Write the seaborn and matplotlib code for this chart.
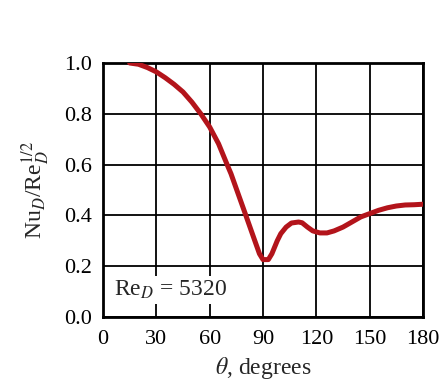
import seaborn as sns
import pandas as pd
import matplotlib.pyplot as plt

# values
theta = [15, 20, 25, 30, 35, 40, 45, 50, 55, 60, 65, 70, 72, 75, 80, 85, 88, 90, 93,
         95, 98, 100, 103, 106, 110, 112, 115, 118, 122, 126, 130, 135, 140, 145, 150,
         155, 160, 165, 170, 175, 180]
nu_re = [1.0, 0.995, 0.982, 0.965, 0.942, 0.916, 0.886, 0.846, 0.80, 0.748, 0.682,
         0.597, 0.564, 0.505, 0.407, 0.308, 0.249, 0.226, 0.226, 0.249, 0.30, 0.328,
         0.354, 0.37, 0.374, 0.371, 0.354, 0.339, 0.331, 0.331, 0.339, 0.354, 0.374,
         0.394, 0.407, 0.42, 0.43, 0.437, 0.441, 0.442, 0.444]
x_ticks = [0, 30, 60, 90, 120, 150, 180]
y_ticks = [0.0, 0.2, 0.4, 0.6, 0.8, 1.0]

df = pd.DataFrame({"theta": theta, "nu": nu_re})

sns.set_style("white")
plt.rcParams['font.family'] = ['Liberation Serif', 'DejaVu Serif']
plt.rcParams['mathtext.fontset'] = 'stix'

fig = plt.figure(figsize=(4.44, 3.85), dpi=100)
ax = fig.add_axes([103 / 444, 1 - 317 / 385, 320 / 444, 254 / 385])

sns.lineplot(data=df, x="theta", y="nu", ax=ax, color="#b3141b", linewidth=3.6, zorder=3)

ax.set_xlim(0, 180)
ax.set_ylim(0, 1.0)
ax.set_xticks(x_ticks)
ax.set_yticks(y_ticks)
ax.set_yticklabels([f"{v:.1f}" for v in y_ticks])
ax.grid(True, color="black", linewidth=1.3, zorder=1)
for s in ax.spines.values():
    s.set_color("black")
    s.set_linewidth(2.0)
ax.tick_params(labelsize=16, length=0, colors="black")
ax.tick_params(axis="x", pad=9)
ax.tick_params(axis="y", pad=8)

ax.set_xlabel(r"$\theta$, degrees", fontsize=17, labelpad=5)
ax.set_ylabel(r"Nu$_D$/Re$_D^{1/2}$", fontsize=17, labelpad=9)

ax.text(6, 0.105, r"Re$_D$ = 5320", fontsize=17, va="center", zorder=4,
        bbox=dict(facecolor="white", edgecolor="none", pad=2))

plt.savefig("out.png", dpi=100)
